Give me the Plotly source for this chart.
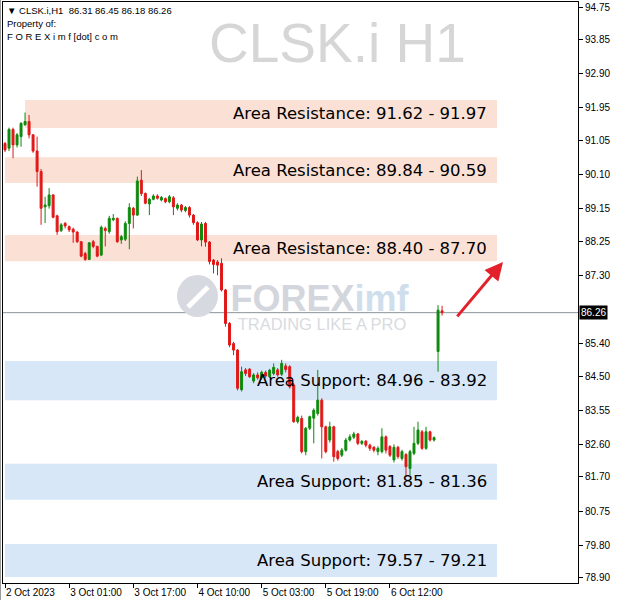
import plotly.graph_objects as go

# ---------------- data ----------------
symbol = "CLSK.i"
timeframe = "H1"
last_ohlc = [86.31, 86.45, 86.18, 86.26]
last_price = 86.26

opens = [90.96, 90.83, 91.35, 90.92, 91.15, 91.48, 91.57, 91.20, 90.75, 90.18,
         89.20, 89.23, 89.53, 88.95, 88.54, 88.74, 88.65, 88.58, 88.50, 88.23,
         87.90, 87.74, 88.23, 88.10, 87.86, 88.60, 88.51, 88.84, 88.88, 88.28,
         88.30, 88.74, 89.16, 88.97, 89.94, 89.57, 89.28, 89.41, 89.50, 89.39,
         89.43, 89.34, 89.45, 89.16, 89.25, 89.10, 89.18, 88.97, 88.76, 88.28,
         88.74, 88.22, 87.72, 87.67, 87.63, 86.89, 85.96, 85.40, 85.22, 84.12,
         84.67, 84.69, 84.36, 84.53, 84.45, 84.60, 84.48, 84.57, 84.67, 84.55,
         84.78, 84.76, 84.25, 83.23, 83.32, 82.40, 83.05, 83.33, 83.46, 83.83,
         83.09, 82.72, 83.09, 82.40, 82.30, 82.44, 82.72, 82.80, 82.89, 82.63,
         82.69, 82.58, 82.52, 82.40, 82.40, 82.81, 82.54, 82.17, 82.52, 82.21,
         82.32, 81.93, 82.35, 82.63, 82.95, 82.49, 82.95, 82.72, 85.18, 86.31]
highs = [91.00, 91.40, 91.40, 91.25, 91.55, 91.82, 91.75, 91.22, 91.15, 90.25,
         89.48, 89.72, 89.55, 88.98, 88.75, 88.78, 88.68, 88.62, 88.52, 88.25,
         87.95, 88.22, 88.28, 88.12, 88.68, 88.65, 88.95, 89.00, 88.90, 88.42,
         88.80, 89.30, 89.20, 90.04, 90.22, 89.60, 89.45, 89.55, 89.55, 89.50,
         89.46, 89.53, 89.50, 89.30, 89.28, 89.22, 89.22, 89.00, 88.80, 88.78,
         88.78, 88.25, 87.75, 87.72, 87.77, 86.92, 86.00, 85.45, 85.25, 84.76,
         84.72, 84.72, 84.58, 84.60, 84.65, 84.65, 84.70, 84.85, 84.72, 84.95,
         84.85, 84.80, 84.30, 83.40, 83.40, 83.08, 83.40, 83.60, 84.67, 83.88,
         83.12, 83.23, 83.12, 82.45, 82.50, 82.78, 82.88, 82.95, 82.92, 82.72,
         82.72, 82.62, 82.55, 82.55, 83.05, 82.85, 82.58, 82.60, 82.56, 82.45,
         82.36, 82.45, 83.09, 83.23, 83.00, 83.09, 82.98, 82.82, 86.47, 86.45]
lows = [90.72, 90.75, 90.55, 90.85, 90.87, 91.45, 91.10, 90.70, 89.76, 88.70,
        88.75, 89.15, 88.88, 88.42, 88.50, 88.60, 88.50, 88.20, 88.20, 87.80,
        87.70, 87.72, 88.05, 87.80, 87.83, 88.10, 88.45, 88.80, 88.20, 88.17,
        88.25, 88.02, 88.60, 88.95, 89.50, 89.27, 88.97, 89.38, 89.40, 89.35,
        89.30, 89.30, 88.97, 89.10, 89.05, 89.05, 88.90, 88.70, 88.25, 88.10,
        88.09, 87.60, 87.35, 87.30, 86.85, 85.87, 85.30, 85.08, 84.10, 84.07,
        84.50, 84.45, 84.30, 84.40, 84.40, 84.45, 84.45, 84.52, 84.48, 84.50,
        84.60, 84.15, 83.20, 83.18, 82.35, 82.30, 83.00, 82.63, 83.40, 82.21,
        82.35, 82.65, 82.12, 82.15, 82.25, 82.40, 82.68, 82.75, 82.58, 82.58,
        82.52, 82.42, 82.38, 82.30, 82.35, 82.35, 82.25, 82.10, 82.20, 82.15,
        81.70, 81.75, 82.30, 82.58, 82.45, 82.45, 82.68, 82.68, 84.62, 86.18]
closes = [90.78, 91.35, 90.92, 91.20, 91.52, 91.57, 91.20, 90.75, 90.18, 89.16,
          89.25, 89.53, 88.91, 88.51, 88.70, 88.67, 88.56, 88.50, 88.23, 87.83,
          87.74, 88.20, 88.10, 87.83, 88.63, 88.54, 88.88, 88.88, 88.23, 88.37,
          88.74, 89.18, 88.97, 89.92, 89.57, 89.30, 89.41, 89.50, 89.44, 89.46,
          89.34, 89.48, 89.20, 89.25, 89.11, 89.18, 88.97, 88.76, 88.28, 88.72,
          88.22, 87.68, 87.60, 87.58, 86.89, 85.96, 85.36, 85.22, 84.16, 84.62,
          84.57, 84.48, 84.53, 84.45, 84.60, 84.50, 84.66, 84.74, 84.53, 84.85,
          84.68, 84.20, 83.23, 83.35, 82.40, 83.05, 83.37, 83.55, 83.83, 83.09,
          82.40, 83.09, 82.26, 82.21, 82.44, 82.72, 82.81, 82.89, 82.63, 82.68,
          82.58, 82.49, 82.44, 82.49, 82.81, 82.44, 82.30, 82.52, 82.26, 82.40,
          81.98, 82.40, 82.63, 83.00, 82.49, 82.95, 82.72, 82.79, 86.33, 86.26]
bars = list(range(len(opens)))

x_tick_bars = [0, 16, 32, 48, 64, 80, 96]
x_tick_labels = ["2 Oct 2023", "3 Oct 01:00", "3 Oct 17:00", "4 Oct 10:00",
                 "5 Oct 03:00", "5 Oct 19:00", "6 Oct 12:00"]
y_tick_values = [94.75, 93.85, 92.90, 91.95, 91.05, 90.10, 89.15, 88.25, 87.30,
                 85.40, 84.50, 83.55, 82.60, 81.70, 80.75, 79.80, 78.90]

zone_labels = ["Area Resistance: 91.62 - 91.97", "Area Resistance: 89.84 - 90.59",
               "Area Resistance: 88.40 - 87.70", "Area Support: 84.96 - 83.92",
               "Area Support: 81.85 - 81.36", "Area Support: 79.57 - 79.21"]
zone_low = [91.39, 89.86, 87.69, 83.83, 81.06, 78.92]
zone_high = [92.17, 90.58, 88.42, 84.92, 82.06, 79.83]
zone_kind = ["res", "res", "res", "sup", "sup", "sup"]
zone_start_bar = [5, 0, 0, 0, 0, 0]
zone_end_bar = 122.7

# ---------------- figure ----------------
W, H = 620, 606
ML, MR, MT, MB = 3, 42, 2, 23
PW, PH = W - ML - MR, H - MT - MB


def px(xp):
    return (xp - ML) / PW


def py(yp):
    return 1 - (yp - MT) / PH


fig = go.Figure()
fig.add_trace(go.Candlestick(
    x=bars, open=opens, high=highs, low=lows, close=closes,
    increasing=dict(line=dict(color="#0d8a0d", width=1), fillcolor="#0d8a0d"),
    decreasing=dict(line=dict(color="#e01818", width=1), fillcolor="#e01818"),
    whiskerwidth=0, hoverinfo="skip", showlegend=False,
))

shapes = []
annotations = []
zone_fill = {"res": "#fbe1d5", "sup": "#d7e7f7"}
for lab, lo, hi, kind, xs in zip(zone_labels, zone_low, zone_high, zone_kind, zone_start_bar):
    shapes.append(dict(type="rect", xref="x", yref="y", x0=xs, x1=zone_end_bar,
                       y0=lo, y1=hi, fillcolor=zone_fill[kind], line=dict(width=0),
                       layer="below"))
    annotations.append(dict(xref="x", yref="y", x=120.6, y=(lo + hi) / 2,
                            text=lab, showarrow=False, xanchor="right", yanchor="middle",
                            font=dict(family="DejaVu Sans", size=16.5, color="#000000")))

# last price line
shapes.append(dict(type="line", xref="paper", yref="y", x0=0, x1=1,
                   y0=last_price, y1=last_price, line=dict(color="#8a9499", width=1),
                   layer="below"))

# outer window edge on the left
shapes.append(dict(type="line", xref="paper", yref="paper", x0=px(0.5), x1=px(0.5),
                   y0=py(0), y1=py(600), line=dict(color="#9a9a9a", width=1)))

# FOREXimf watermark (below candles via shape labels)
shapes.append(dict(type="circle", xref="paper", yref="paper",
                   x0=px(177), x1=px(218), y0=py(317), y1=py(275),
                   fillcolor="#d6d9df", line=dict(width=0), layer="below"))
shapes.append(dict(type="line", xref="paper", yref="paper",
                   x0=px(188), x1=px(208), y0=py(307), y1=py(287),
                   line=dict(color="#ffffff", width=5), layer="below"))
shapes.append(dict(type="rect", xref="paper", yref="paper",
                   x0=px(229), x1=px(410), y0=py(314), y1=py(276),
                   fillcolor="rgba(0,0,0,0)", line=dict(width=0), layer="below",
                   label=dict(text="<b>FOREX</b><span style='color:#cfdeec'><b>imf</b></span>",
                              textposition="middle center",
                              font=dict(family="Liberation Sans", size=36, color="#d3d6dc"))))
shapes.append(dict(type="rect", xref="paper", yref="paper",
                   x0=px(236), x1=px(408), y0=py(331), y1=py(313),
                   fillcolor="rgba(0,0,0,0)", line=dict(width=0), layer="below",
                   label=dict(text="TRADING LIKE A PRO", textposition="middle center",
                              font=dict(family="Liberation Sans", size=16.5, color="#d8dbe0"))))

# symbol watermark
annotations.append(dict(xref="paper", yref="paper", x=px(337), y=py(43),
                        text=f"{symbol} {timeframe}", showarrow=False,
                        xanchor="center", yanchor="middle",
                        font=dict(family="Liberation Sans", size=55, color="#d6d6d6")))

# header lines
hdr = f"▼ {symbol},{timeframe}  " + " ".join(f"{v:.2f}" for v in last_ohlc)
for txt, yp in [(hdr, 10), ("Property of:", 23), ("F O R E X i m f [dot] c o m", 36)]:
    annotations.append(dict(xref="paper", yref="paper", x=px(5), y=py(yp), text=txt,
                            showarrow=False, xanchor="left", yanchor="middle",
                            font=dict(family="Liberation Sans", size=9.5, color="#000000")))

# price label on axis
annotations.append(dict(xref="paper", yref="y", x=1, y=last_price, text=f"{last_price:.2f}",
                        showarrow=False, xanchor="left", yanchor="middle", xshift=1,
                        bgcolor="#000000", borderpad=1,
                        font=dict(family="Liberation Sans", size=10, color="#ffffff")))

# red arrow
annotations.append(dict(xref="x", yref="y", x=124.2, y=87.67, text="", showarrow=True,
                        ax=-47, ay=56, arrowhead=2, arrowsize=1.2, arrowwidth=3,
                        arrowcolor="#e3212b", standoff=0, startstandoff=0))

fig.update_layout(
    width=W, height=H,
    margin=dict(l=ML, r=MR, t=MT, b=MB, autoexpand=False),
    paper_bgcolor="#ffffff", plot_bgcolor="#ffffff",
    shapes=shapes, annotations=annotations,
    showlegend=False, hovermode=False,
    xaxis=dict(range=[-0.5, 142.9], showgrid=False, zeroline=False,
               rangeslider=dict(visible=False),
               tickmode="array", tickvals=x_tick_bars, ticktext=x_tick_labels,
               ticks="outside", ticklen=4, tickcolor="#000000",
               ticklabelposition="outside right",
               tickfont=dict(family="Liberation Sans", size=10, color="#000000"),
               showline=True, linecolor="#000000", linewidth=1, mirror=True),
    yaxis=dict(range=[78.75, 94.89], side="right", showgrid=False, zeroline=False,
               tickmode="array", tickvals=y_tick_values,
               ticktext=[f"{v:.2f}" for v in y_tick_values],
               ticks="outside", ticklen=4, tickcolor="#000000",
               tickfont=dict(family="Liberation Sans", size=10, color="#000000"),
               showline=True, linecolor="#000000", linewidth=1, mirror=True),
)

fig.write_html("out.html", config={"displayModeBar": False},
               post_script="document.body.style.margin='0';document.body.style.padding='0';")
